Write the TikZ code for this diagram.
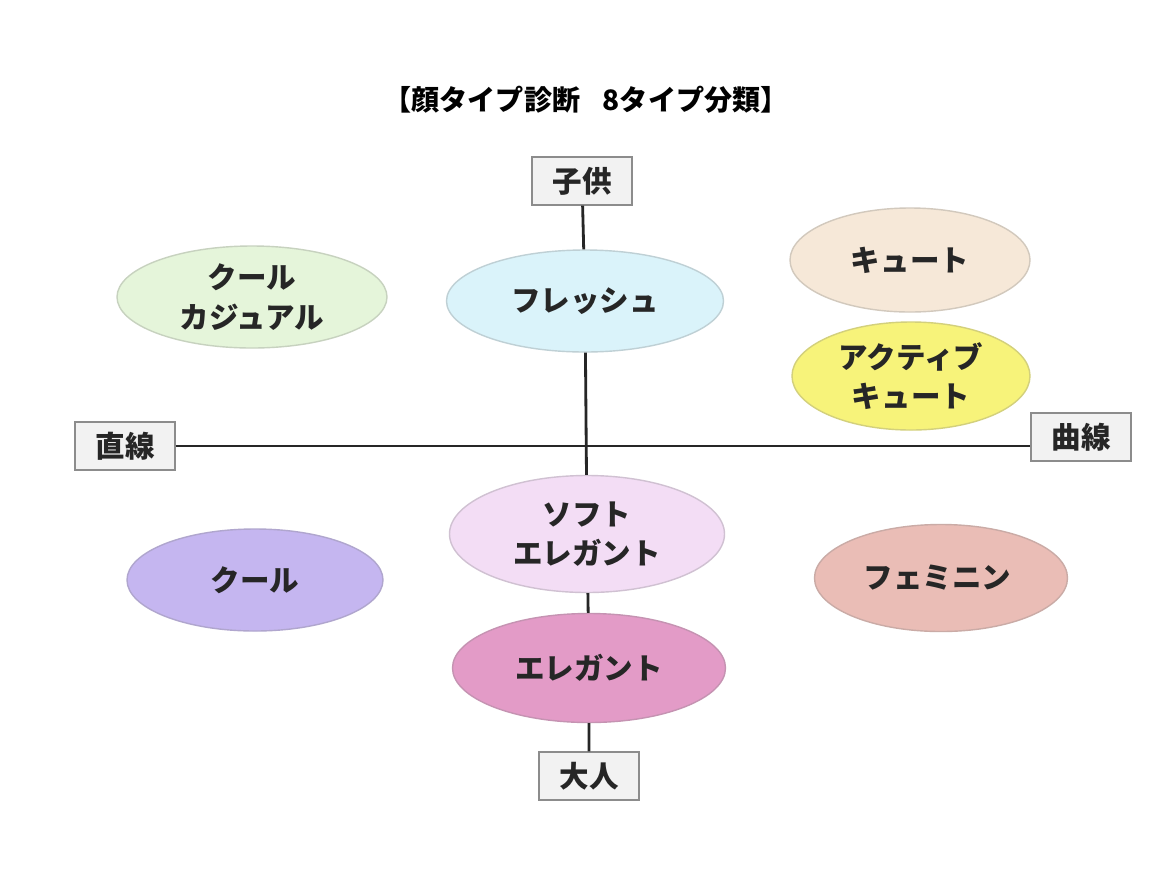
\documentclass[tikz,border=0pt]{standalone}
\usepackage{fontspec}
\usetikzlibrary{positioning,shapes.geometric}
\newfontfamily\jpfont{Noto Sans CJK JP}

\definecolor{coolcasualfill}{HTML}{E5F5DA}
\definecolor{freshfill}{HTML}{DAF3FA}
\definecolor{cutefill}{HTML}{F6E8D8}
\definecolor{activefill}{HTML}{F7F37A}
\definecolor{softfill}{HTML}{F3DDF5}
\definecolor{elegantfill}{HTML}{E39BC7}
\definecolor{coolfill}{HTML}{C5B6F0}
\definecolor{femininefill}{HTML}{EABDB6}
\definecolor{boxfill}{HTML}{F2F2F2}
\definecolor{inktext}{HTML}{262626}

\begin{document}
\begin{tikzpicture}[x=0.025cm,y=-0.025cm,
  axisbox/.style={draw=black!45,fill=boxfill,line width=0.8pt,minimum width=2.5cm,minimum height=1.2cm,inner sep=0pt,text=inktext,font=\jpfont\bfseries\fontsize{21}{28}\selectfont},
  typeoval/.style={ellipse,line width=1pt,inner sep=0pt,align=center,text=inktext,font=\jpfont\bfseries\fontsize{21}{28}\selectfont},
  axisline/.style={line width=2pt,black!85}]
\useasboundingbox[fill=white] (0,0) rectangle (1160,884);

\node (title) at (586,100) {\jpfont\bfseries\fontsize{20}{24}\selectfont 【顔タイプ診断\hspace{0.8em}8タイプ分類】};

% axis labels
\node[axisbox] (kodomo) at (582,181) {子供};
\node[axisbox] (otona) at (589,776) {大人};
\node[axisbox] (chokusen) at (125,446) {直線};
\node[axisbox] (kyokusen) at (1081,437) {曲線};

% face types
\foreach \n/\x/\y/\w/\h/\c/\t in {
  coolcasual/252/297/270/102/coolcasualfill/{クール\\カジュアル},
  fresh/585/301/277/102/freshfill/{フレッシュ},
  cute/910/260/240/104/cutefill/{キュート},
  active/911/376/238/108/activefill/{アクティブ\\キュート},
  soft/587/534/275/117/softfill/{ソフト\\エレガント},
  elegant/589/668/273/109/elegantfill/{エレガント},
  cool/255/580/256/102/coolfill/{クール},
  feminine/941/578/253/107/femininefill/{フェミニン}
}
\node[typeoval,fill=\c,draw=\c!70!gray,minimum width=\w*0.025cm,minimum height=\h*0.025cm] (\n) at (\x,\y) {\t};

\draw[axisline] (kodomo) -- (fresh) -- (soft) -- (elegant) -- (otona);
\draw[axisline] (chokusen.east) -- (chokusen.east -| kyokusen.west);
\end{tikzpicture}
\end{document}
